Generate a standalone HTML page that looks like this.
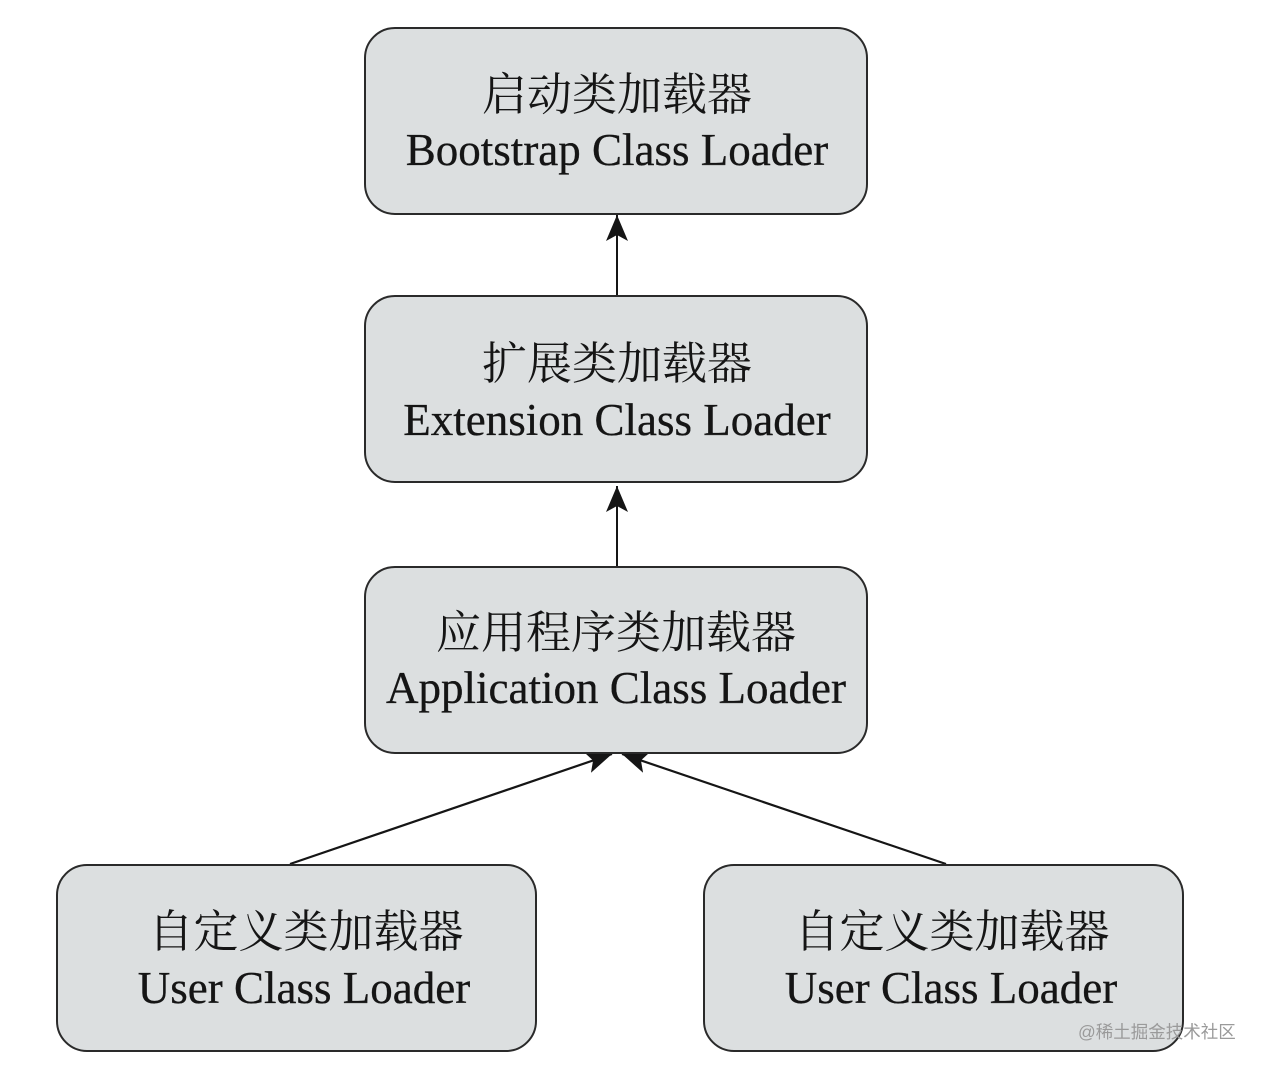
<!DOCTYPE html>
<html>
<head>
<meta charset="utf-8">
<style>
  html,body{margin:0;padding:0;background:#fff;}
  svg{display:block;}
  .zh{font-family:"Noto Serif CJK SC","Liberation Serif",serif;font-size:45px;fill:#151515;text-anchor:middle;}
  .en{font-family:"Liberation Serif",serif;font-size:45px;fill:#151515;stroke:#151515;stroke-width:0.3;text-anchor:middle;}
  .wm{font-family:"Liberation Sans","Noto Sans CJK SC",sans-serif;font-size:17.5px;fill:#9a9a9a;}
</style>
</head>
<body>
<svg width="1266" height="1067" viewBox="0 0 1266 1067" xmlns="http://www.w3.org/2000/svg">
  <defs>
    <marker id="ah" viewBox="0 0 26 22" refX="26" refY="11" markerWidth="26" markerHeight="22" markerUnits="userSpaceOnUse" orient="auto">
      <path d="M26 11 L0 0 L6 11 L0 22 Z" fill="#151515"/>
    </marker>
  </defs>

  <!-- connectors -->
  <line x1="617" y1="296" x2="617" y2="215" stroke="#151515" stroke-width="2" marker-end="url(#ah)"/>
  <line x1="617" y1="567" x2="617" y2="486" stroke="#151515" stroke-width="2" marker-end="url(#ah)"/>
  <line x1="290" y1="864" x2="612" y2="754" stroke="#151515" stroke-width="2.2" marker-end="url(#ah)"/>
  <line x1="946" y1="864" x2="622" y2="754" stroke="#151515" stroke-width="2.2" marker-end="url(#ah)"/>

  <!-- boxes -->
  <g fill="#dcdfe0" stroke="#2a2a2a" stroke-width="2">
    <rect x="365" y="28" width="502" height="186" rx="30" ry="30"/>
    <rect x="365" y="296" width="502" height="186" rx="30" ry="30"/>
    <rect x="365" y="567" width="502" height="186" rx="30" ry="30"/>
    <rect x="57" y="865" width="479" height="186" rx="30" ry="30"/>
    <rect x="704" y="865" width="479" height="186" rx="30" ry="30"/>
  </g>

  <!-- text -->
  <text class="zh" x="617" y="110">启动类加载器</text>
  <text class="en" x="617" y="165">Bootstrap Class Loader</text>

  <text class="zh" x="617" y="379">扩展类加载器</text>
  <text class="en" x="617" y="435">Extension Class Loader</text>

  <text class="zh" x="616" y="648">应用程序类加载器</text>
  <text class="en" x="616" y="703">Application Class Loader</text>

  <text class="zh" x="306" y="947">自定义类加载器</text>
  <text class="en" x="304" y="1003">User Class Loader</text>

  <text class="zh" x="952" y="947">自定义类加载器</text>
  <text class="en" x="951" y="1003">User Class Loader</text>

  <text class="wm" x="1078" y="1038">@稀土掘金技术社区</text>
</svg>
</body>
</html>
